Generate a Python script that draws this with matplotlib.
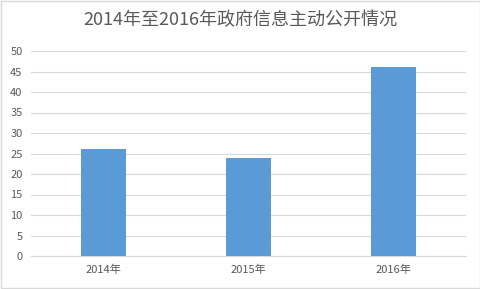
import matplotlib
matplotlib.use("Agg")
import matplotlib.pyplot as plt
from matplotlib.patches import Rectangle

plt.rcParams['font.family'] = ['Noto Sans CJK SC', 'DejaVu Sans']

categories = ["2014年", "2015年", "2016年"]
values = [26, 24, 46]
yticks = [0, 5, 10, 15, 20, 25, 30, 35, 40, 45, 50]
title = "2014年至2016年政府信息主动公开情况"

fig = plt.figure(figsize=(4.81, 2.89), dpi=100)
ax = fig.add_axes([31/481, 33/289, 435/481, 205/289])

x = list(range(len(categories)))
ax.bar(x, values, width=0.31, color="#5b9bd5", zorder=3)
ax.set_xlim(-0.5, len(categories) - 0.5)
ax.set_ylim(0, 50)
ax.set_yticks(yticks)
ax.set_xticks(x)
ax.set_xticklabels(categories)
ax.grid(axis="y", color="#d9d9d9", linewidth=0.8, zorder=0)
for s in ["top", "right", "left"]:
    ax.spines[s].set_visible(False)
ax.spines["bottom"].set_color("#d9d9d9")
ax.tick_params(axis="both", length=0, labelsize=8, colors="#595959", pad=6)
ax.tick_params(axis="x", pad=6)

fig.text(0.5, 1 - 20/289, title, ha="center", va="center", fontsize=13, color="#595959")
fig.patches.append(Rectangle((0.002, 0.003), 0.995, 0.994, transform=fig.transFigure,
                             fill=False, edgecolor="#d9d9d9", linewidth=1))

fig.savefig("out.png", dpi=100)
